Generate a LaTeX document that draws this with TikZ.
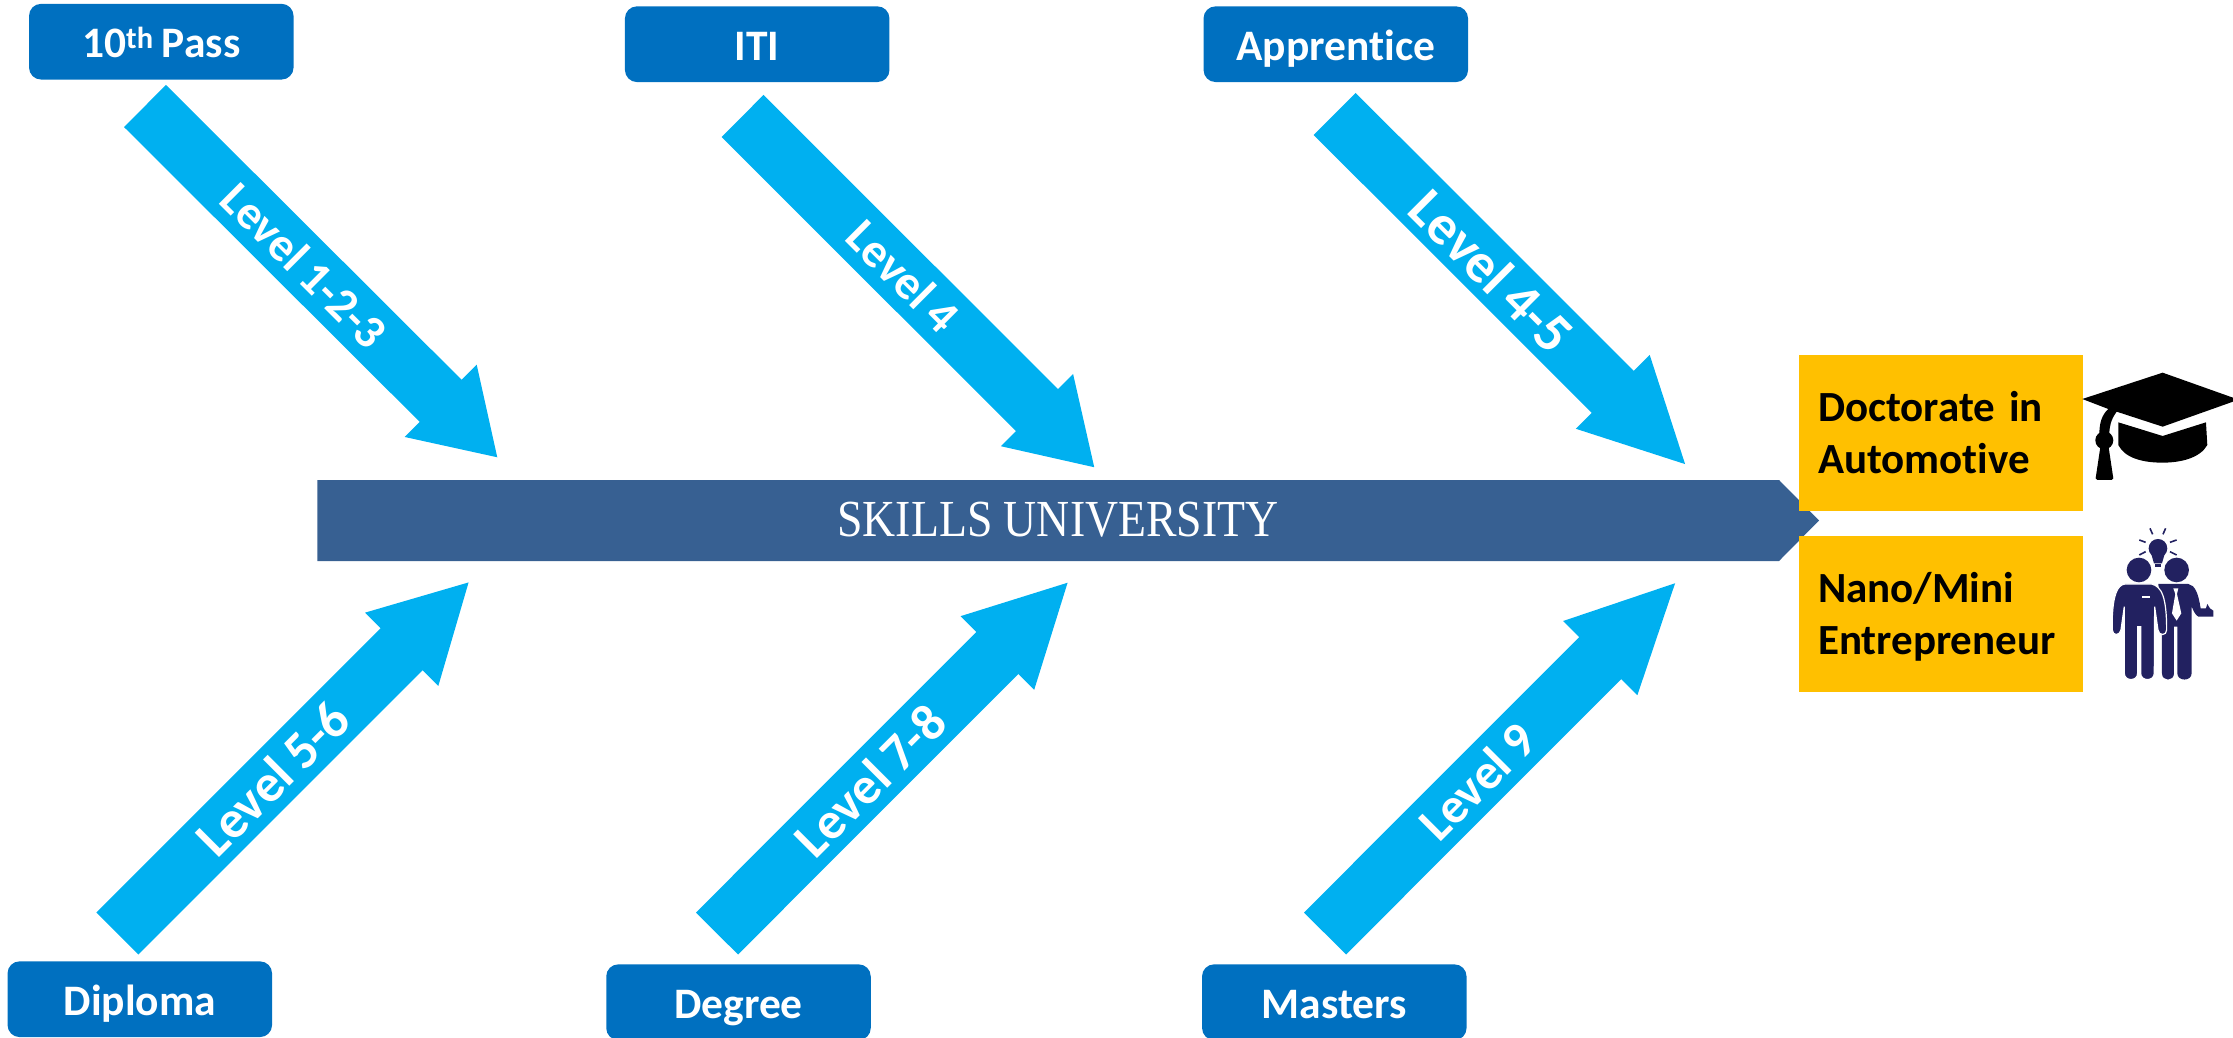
\documentclass[tikz,border=0pt]{standalone}
\usepackage{fontspec}
\setmainfont[Ligatures=NoCommon, WordSpace=0.85]{Carlito}
\newfontfamily\spinefont[FakeStretch=0.88]{Liberation Serif}
\usetikzlibrary{arrows.meta}
\definecolor{boxblue}{HTML}{0070C0}
\definecolor{arrowblue}{HTML}{00B0F0}
\definecolor{spineblue}{HTML}{376092}
\definecolor{goalyellow}{HTML}{FFC000}
\definecolor{mannavy}{HTML}{222160}
\tikzset{
block/.style={rectangle, rounded corners=12pt, minimum width=264.5pt, minimum height=75.7pt, inner sep=0pt, text height=33pt, text depth=0.5pt, align=center, fill=boxblue, text=white, font=\fontsize{43.5pt}{50pt}\selectfont\bfseries},
goal/.style={rectangle, minimum width=284pt, minimum height=156pt, inner xsep=19pt, inner ysep=0pt, text width=246pt, align=left, fill=goalyellow, text=black, font=\fontsize{43pt}{52pt}\selectfont\bfseries, execute at begin node=\rule{0pt}{38pt}, execute at end node=\rule[-10pt]{0pt}{0pt}},
arrow/.style={line width=59.4pt, draw=arrowblue, -{Triangle[length=#1pt, width=96pt, fill=arrowblue]}},
level/.style={sloped, inner sep=0pt, text=white, font=\fontsize{#1pt}{50pt}\selectfont\bfseries},
manbody/.style={fill=mannavy, draw=white, line width=1.2pt}}

\begin{document}
\begin{tikzpicture}[x=1pt,y=-1pt]
\useasboundingbox (0,0) rectangle (2233,1037);

\node (iti) [block] at (757.2,44.2) {ITI};
\node (pass) [block,left of=iti, node distance=595.9pt, yshift=2.5pt] {10\textsuperscript{th} Pass};
\node (apprentice) [block,right of=iti, node distance=578.6pt] {Apprentice};
\node (degree) [block] at (738.5,1002.2) {Degree};
\node (diploma) [block,left of=degree, node distance=598.7pt, yshift=3pt] {Diploma};
\node (masters) [block,right of=degree, node distance=595.8pt] {Masters};

\coordinate (passtail) at (145,106);
\coordinate (passtip) at (498,458);
\coordinate (ititail) at (742.5,116);
\coordinate (ititip) at (1095,468);
\coordinate (apprenticetail) at (1334.7,114);
\coordinate (apprenticetip) at (1687,466);
\coordinate (diplomatail) at (117.3,933.5);
\coordinate (diplomatip) at (470,581);
\coordinate (degreetail) at (717,933.5);
\coordinate (degreetip) at (1069.3,581);
\coordinate (masterstail) at (1325,933.5);
\coordinate (masterstip) at (1677.3,581);

\draw [arrow=81] (passtail) -- node [level=47.5, pos=0.452] {Level 1-2-3} (passtip);
\draw [arrow=82] (ititail) -- node [level=48, pos=0.455] {Level 4} (ititip);
\draw [arrow=105] (apprenticetail) -- node [level=56, pos=0.446] {Level 4-5} (apprenticetip);
\draw [arrow=96.6] (diplomatail) -- node [level=53, pos=0.44] {Level 5-6} (diplomatip);
\draw [arrow=101.8] (degreetail) -- node [level=52, pos=0.434] {Level 7-8} (degreetip);
\draw [arrow=109] (masterstail) -- node [level=50, pos=0.431] {Level 9} (masterstip);

\fill [spineblue] (317.4,480) -- (1779,480) -- (1819,520.5) -- (1779,561) -- (317.4,561) -- cycle;
\node (university) [text=white, inner sep=0pt, font=\fontsize{52pt}{55pt}\selectfont\spinefont] at (1058,520) {SKILLS UNIVERSITY};

\node (doctorate) [goal] at (1941,433) {Doctorate in\\Automotive};
\node (nano) [goal] at (1941,614) {Nano/Mini\\Entrepreneur};

% icons, in the pixels of a crop
\begin{scope}[shift={(1750,330)}, x=0.3333pt, y=-0.3333pt]
\fill [black] (997,207) -- (1238,128) -- (1449,203) -- (1449,215) -- (1238,290) -- (1100,245) .. controls (1082,270) and (1078,290) .. (1078,315) -- (1048,315) .. controls (1048,280) and (1055,255) .. (1075,237) -- cycle;
\fill [black] (1063,331) circle [radius=27];
\fill [black] (1052,345) -- (1037,445) -- (1042,450) -- (1085,450) -- (1090,445) -- (1075,345) -- cycle;
\fill [black] (1105,277) -- (1238,318) -- (1368,277) -- (1372,345) .. controls (1350,385) and (1290,398) .. (1238,398) .. controls (1180,398) and (1125,385) .. (1105,345) -- cycle;

\fill [mannavy] (1224,655) circle [radius=28];
\fill [mannavy] (1204,672) -- (1212,700) -- (1236,700) -- (1244,672) -- cycle;
\fill [mannavy] (1214,703) rectangle (1234,712);
\draw [mannavy, line width=1.6pt] (1200,595) -- (1208,613) (1247,595) -- (1239,613) (1168,630) -- (1187,637) (1280,630) -- (1260,637) (1168,675) -- (1187,665) (1280,675) -- (1260,665);
\fill [mannavy] (1167,720) circle [radius=37];
\fill [mannavy] (1280,720) circle [radius=37];

\fill [mannavy] (1225,762) -- (1315,762) .. controls (1335,765) and (1345,790) .. (1352,835) -- (1368,835) -- (1372,822) -- (1380,835) -- (1390,842) -- (1390,860) -- (1345,860) .. controls (1335,855) and (1330,840) .. (1325,830) -- (1325,1030) .. controls (1325,1055) and (1282,1055) .. (1282,1030) -- (1282,890) -- (1272,890) -- (1272,1030) .. controls (1272,1055) and (1236,1055) .. (1236,1030) -- (1236,860) -- cycle;
\fill [white] (1270,775) -- (1285,775) -- (1281,792) -- (1294,850) -- (1280,872) -- (1266,850) -- (1276,792) -- cycle;
\draw [manbody] (1087,900) -- (1087,860) .. controls (1090,800) and (1100,765) .. (1125,762) -- (1205,762) .. controls (1235,770) and (1250,800) .. (1250,900) .. controls (1250,918) and (1226,918) .. (1224,900) -- (1214,830) -- (1213,1030) .. controls (1213,1055) and (1172,1055) .. (1172,1030) -- (1172,890) -- (1163,890) -- (1163,1030) .. controls (1163,1055) and (1123,1055) .. (1123,1030) -- (1123,830) -- (1113,900) .. controls (1110,918) and (1087,918) .. (1087,900) -- cycle;
\fill [white] (1175,799) rectangle (1200,804);
\end{scope}
\end{tikzpicture}
\end{document}
